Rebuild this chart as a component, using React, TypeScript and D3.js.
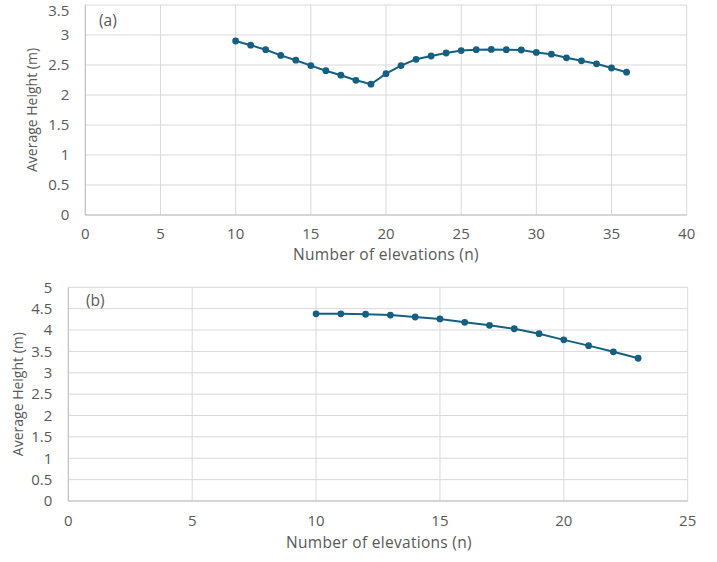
import React from "react";
import * as d3 from "d3";

// panel (a): elevations 10..36
const elevA = [10, 11, 12, 13, 14, 15, 16, 17, 18, 19, 20, 21, 22, 23, 24, 25, 26, 27, 28, 29, 30, 31, 32, 33, 34, 35, 36];
const heightA = [2.9, 2.83, 2.755, 2.66, 2.58, 2.49, 2.405, 2.33, 2.245, 2.18, 2.355, 2.49, 2.595, 2.65, 2.7, 2.74, 2.755, 2.76, 2.755, 2.75, 2.71, 2.68, 2.62, 2.57, 2.52, 2.45, 2.38];

// panel (b): elevations 10..23
const elevB = [10, 11, 12, 13, 14, 15, 16, 17, 18, 19, 20, 21, 22, 23];
const heightB = [4.38, 4.38, 4.37, 4.35, 4.305, 4.26, 4.18, 4.11, 4.03, 3.915, 3.77, 3.635, 3.49, 3.34];

const xTicksA = [0, 5, 10, 15, 20, 25, 30, 35, 40];
const yTicksA = [0, 0.5, 1, 1.5, 2, 2.5, 3, 3.5];
const xTicksB = [0, 5, 10, 15, 20, 25];
const yTicksB = [0, 0.5, 1, 1.5, 2, 2.5, 3, 3.5, 4, 4.5, 5];

const lineColor = "#156082";
const gridColor = "#d9d9d9";
const textColor = "#595959";
const font = "'Open Sans', 'Liberation Sans', sans-serif";

type PanelProps = {
  xs: number[];
  ys: number[];
  xTicks: number[];
  yTicks: number[];
  box: { left: number; right: number; top: number; bottom: number };
  tag: string;
  tagPos: [number, number];
  yTitleX: number;
  xTickY: number;
  xTitleY: number;
  xTitleX: number;
};

function Panel({ xs, ys, xTicks, yTicks, box, tag, tagPos, yTitleX, xTickY, xTitleY, xTitleX }: PanelProps) {
  const x = d3.scaleLinear().domain([xTicks[0], xTicks[xTicks.length - 1]]).range([box.left, box.right]);
  const y = d3.scaleLinear().domain([yTicks[0], yTicks[yTicks.length - 1]]).range([box.bottom, box.top]);
  const pts = xs.map((v, i) => [v, ys[i]] as [number, number]);
  const line = d3.line<[number, number]>().x((d) => x(d[0])).y((d) => y(d[1]));

  return (
    <g fontFamily={font} fill={textColor}>
      {/* grid */}
      {yTicks.map((t) => (
        <line key={"gy" + t} x1={box.left} x2={box.right} y1={y(t)} y2={y(t)} stroke={gridColor} strokeWidth={1} />
      ))}
      {xTicks.map((t) => (
        <line key={"gx" + t} x1={x(t)} x2={x(t)} y1={box.top} y2={box.bottom} stroke={gridColor} strokeWidth={1} />
      ))}
      <line x1={box.left} x2={box.right} y1={box.bottom} y2={box.bottom} stroke="#bfbfbf" />
      <line x1={box.left} x2={box.left} y1={box.top} y2={box.bottom} stroke="#bfbfbf" />

      {/* tick labels; keep the topmost one inside the svg */}
      {yTicks.map((t) => (
        <text key={"ly" + t} x={box.left - 16} y={Math.max(y(t), 11)} dy="0.35em" textAnchor="end" fontSize={15}>
          {t}
        </text>
      ))}
      {xTicks.map((t) => (
        <text key={"lx" + t} x={x(t)} y={xTickY} dy="0.35em" textAnchor="middle" fontSize={15}>
          {t}
        </text>
      ))}

      {/* titles */}
      <text
        transform={`translate(${yTitleX},${(box.top + box.bottom) / 2}) rotate(-90)`}
        textAnchor="middle"
        dy="0.35em"
        fontSize={14}
      >
        Average Height (m)
      </text>
      <text x={xTitleX} y={xTitleY} dy="0.35em" textAnchor="middle" fontSize={15.5} letterSpacing={0.3}>
        Number of elevations (n)
      </text>
      <text x={tagPos[0]} y={tagPos[1]} dy="0.35em" fontSize={15.5}>
        {tag}
      </text>

      {/* series */}
      <path d={line(pts) ?? ""} fill="none" stroke={lineColor} strokeWidth={2} />
      {pts.map((d, i) => (
        <circle key={i} cx={x(d[0])} cy={y(d[1])} r={3.4} fill={lineColor} />
      ))}
    </g>
  );
}

export default function App() {
  return (
    <div style={{ position: "absolute", left: 0, top: 0 }}>
      <svg width={717} height={562} style={{ display: "block", background: "#fff" }}>
        <Panel
          xs={elevA}
          ys={heightA}
          xTicks={xTicksA}
          yTicks={yTicksA}
          box={{ left: 85.3, right: 686.7, top: 5, bottom: 215 }}
          tag="(a)"
          tagPos={[99, 21]}
          yTitleX={32}
          xTickY={234}
          xTitleY={255}
          xTitleX={386}
        />
        <Panel
          xs={elevB}
          ys={heightB}
          xTicks={xTicksB}
          yTicks={yTicksB}
          box={{ left: 68.3, right: 687.7, top: 287.3, bottom: 501 }}
          tag="(b)"
          tagPos={[86, 301]}
          yTitleX={18}
          xTickY={520.7}
          xTitleY={542.7}
          xTitleX={379}
        />
      </svg>
    </div>
  );
}
